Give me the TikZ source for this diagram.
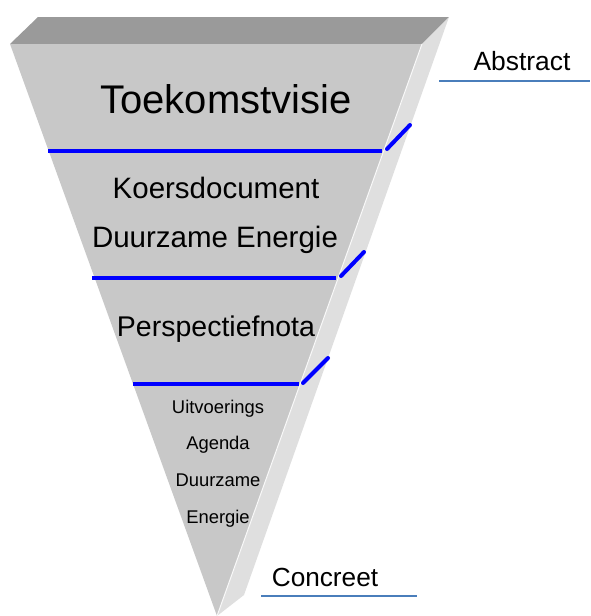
\documentclass[tikz,border=0pt]{standalone}
\usepackage{fontspec}
\setmainfont{Liberation Sans}
\definecolor{topgray}{HTML}{9A9A9A}
\definecolor{frontgray}{HTML}{C8C8C8}
\definecolor{sidegray}{HTML}{DFDFDF}
\definecolor{levelblue}{HTML}{0000FF}
\definecolor{axisblue}{HTML}{4A7EBB}
\tikzset{
  lbl/.style={inner sep=0pt, anchor=base, text=black},
  level/.style={draw=levelblue, line width=4pt},
  axis/.style={draw=axisblue, line width=2pt},
}
\begin{document}
\begin{tikzpicture}[x=1pt,y=-1pt]
\useasboundingbox (0,0) rectangle (590,616);
% corners
\coordinate (FL) at (10,44);
\coordinate (FR) at (422,44);
\coordinate (TL) at (38,17);
\coordinate (TR) at (449,17);
\coordinate (SB) at (244,595);
\coordinate (TIP) at (217,616);
% faces
\fill[topgray] (FL) -- (TL) -- (TR) -- (FR) -- cycle;
\fill[sidegray] (FR) -- (TR) -- (SB) -- (TIP) -- cycle;
\fill[frontgray] (FL) -- (FR) -- (TIP) -- cycle;
\draw[white!90!frontgray, line width=1pt] (FR) -- (TIP);
% level lines
\coordinate (l1a) at (48,151); \coordinate (l1b) at (382,151);
\coordinate (s1a) at (387,149); \coordinate (s1b) at (410,125);
\coordinate (l2a) at (92,278); \coordinate (l2b) at (336,278);
\coordinate (s2a) at (341,276); \coordinate (s2b) at (364,252);
\coordinate (l3a) at (133,384); \coordinate (l3b) at (299,384);
\coordinate (s3a) at (303,383); \coordinate (s3b) at (328,358);
\draw[level] (l1a) -- (l1b);
\draw[level, line cap=round] (s1a) -- (s1b);
\draw[level] (l2a) -- (l2b);
\draw[level, line cap=round] (s2a) -- (s2b);
\draw[level] (l3a) -- (l3b);
\draw[level, line cap=round] (s3a) -- (s3b);
% texts
\node[lbl, font=\fontsize{40}{40}\selectfont] (t1) at (226,113) {Toekomstvisie};
\node[lbl, font=\fontsize{29.5}{29.5}\selectfont] (t2) at (216,198) {Koersdocument};
\node[lbl, font=\fontsize{29.5}{29.5}\selectfont] (t3) at (215,247) {Duurzame Energie};
\node[lbl, font=\fontsize{28.5}{28.5}\selectfont] (t4) at (216,336) {Perspectiefnota};
\node[lbl, font=\fontsize{18.4}{18.4}\selectfont] (t5) at (218,413) {Uitvoerings};
\node[lbl, font=\fontsize{18.4}{18.4}\selectfont] (t6) at (218,449) {Agenda};
\node[lbl, font=\fontsize{18.4}{18.4}\selectfont] (t7) at (218,486) {Duurzame};
\node[lbl, font=\fontsize{18.4}{18.4}\selectfont] (t8) at (218,523) {Energie};
% axis labels
\node[lbl, font=\fontsize{26.4}{26.4}\selectfont] (abs) at (522,70) {Abstract};
\coordinate (absa) at (439,81); \coordinate (absb) at (590,81);
\draw[axis] (absa) -- (absb);
\node[lbl, font=\fontsize{26.2}{26.2}\selectfont] (con) at (325,586) {Concreet};
\coordinate (cona) at (261,596); \coordinate (conb) at (417,596);
\draw[axis] (cona) -- (conb);
\end{tikzpicture}
\end{document}
